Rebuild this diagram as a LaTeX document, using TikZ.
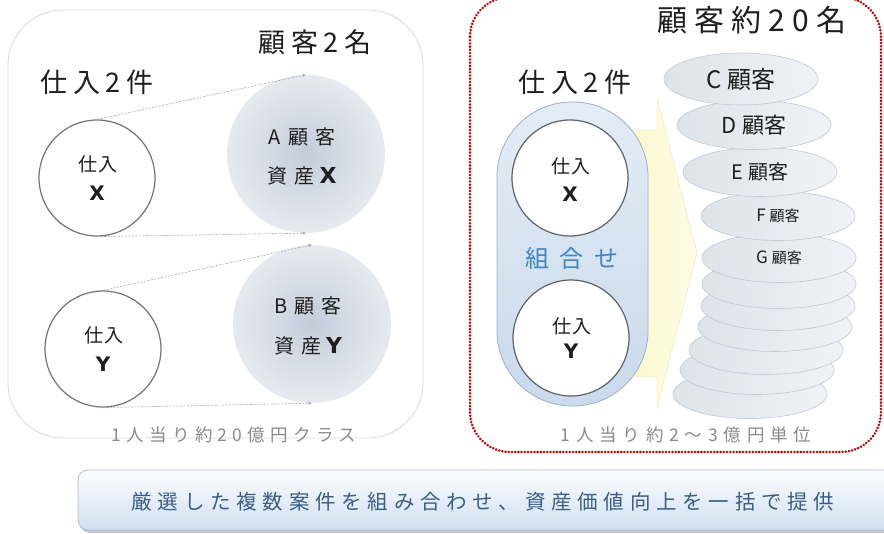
\documentclass[tikz,border=0pt]{standalone}
\usepackage{fontspec}
\setmainfont{Noto Sans CJK JP}
\newfontfamily\latf{DejaVu Sans}
\usetikzlibrary{shapes.geometric,arrows.meta}
\definecolor{boxgray}{HTML}{D9D9D9}
\definecolor{reddot}{HTML}{C00000}
\definecolor{circline}{HTML}{6E757D}
\definecolor{ballIn}{HTML}{C4CEDA}
\definecolor{ballOut}{HTML}{E6EAF0}
\definecolor{capsTop}{HTML}{E4ECF5}
\definecolor{capsBot}{HTML}{C9DAEC}
\definecolor{capsLine}{HTML}{9DB1C7}
\definecolor{ellL}{HTML}{DEE3EA}
\definecolor{ellR}{HTML}{F0F2F6}
\definecolor{ellLine}{HTML}{C3CAD4}
\definecolor{yelL}{HTML}{FBF8CC}
\definecolor{yelR}{HTML}{FDFCE6}
\definecolor{yelLine}{HTML}{EDE9C6}
\definecolor{kumi}{HTML}{3E86C6}
\definecolor{graytxt}{HTML}{8A8A8A}
\definecolor{banTop}{HTML}{FCFDFE}
\definecolor{banBot}{HTML}{CFDFF0}
\definecolor{banLine}{HTML}{AABCCF}
\definecolor{banTxt}{HTML}{3A5D88}
\definecolor{txtdark}{HTML}{1E1E1E}
\newcommand\myfs[2]{\fontsize{#1}{#1}\selectfont\addfontfeatures{LetterSpace=#2}}
\newcommand\bx[2]{{\latf\bfseries\fontsize{#1}{#1}\selectfont #2}}
\begin{document}
\begin{tikzpicture}[x=1pt,y=-1pt,
  leftbox/.style={draw=boxgray,line width=0.8pt,rounded corners=55pt,fill=white},
  redbox/.style={draw=reddot,line width=2.8pt,line cap=round,dash pattern=on 0.01pt off 3.2pt,rounded corners=40pt},
  circ/.style={circle,draw=circline,line width=1.2pt,fill=white,minimum size=116pt,inner sep=0pt},
  ball/.style={circle,minimum size=158pt,inner sep=0pt},
  dasharrow/.style={draw=gray!70,line width=0.6pt,dash pattern=on 2pt off 1.5pt,-{Stealth[length=4pt,width=3pt]}},
  capsule/.style={rounded corners=75pt,top color=capsTop,bottom color=capsBot,draw=capsLine,line width=0.8pt},
  ell/.style={ellipse,left color=ellL,right color=ellR,draw=ellLine,line width=0.6pt,minimum width=154pt,minimum height=49pt,inner sep=0pt,text=txtdark},
  txt/.style={inner sep=0pt,text=txtdark},
]
\useasboundingbox (0,0) rectangle (884,534);
\clip (0,0) rectangle (884,534);
\fill[white] (0,0) rectangle (884,534);

% ---------- left panel ----------
\draw[leftbox] (8,10) rectangle (423,438);
\node[txt] (t1) at (315,42) {\myfs{27}{20}顧客2名};
\node[txt] (t2) at (97,82) {\myfs{27}{20}仕入2件};

\node[ball] (A) at (306,154) {};
\node[ball] (B) at (312,324) {};
\foreach \k in {0,...,25}{
  \pgfmathsetmacro\rr{79-3.0*\k}
  \pgfmathtruncatemacro\pp{4*\k}
  \fill[ballIn!\pp!ballOut] (A) circle[radius=\rr pt];
  \fill[ballIn!\pp!ballOut] (B) circle[radius=\rr pt];
}
\node[circ] (X1) at (97,178) {};
\node[circ] (Y1) at (103,349) {};

\draw[dasharrow] (X1.north) -- (A.north);
\draw[dasharrow] (X1.south) -- (A.south);
\draw[dasharrow] (Y1.north) -- (B.north);
\draw[dasharrow] (Y1.south) -- (B.south);

\node[txt] (x1a) at (98,164) {\myfs{19}{3}仕入};
\node[txt] (x1b) at (97,193) {\bx{20}{X}};
\node[txt] (y1a) at (104,335) {\myfs{19}{3}仕入};
\node[txt] (y1b) at (103,364) {\bx{20}{Y}};

\node[txt] (a1) at (302,137) {\myfs{20}{0}A\hspace{7pt}顧\hspace{7pt}客};
\node[txt] (a2) at (302,176) {\myfs{20}{0}資\hspace{7pt}産\hspace{5pt}\bx{22}{X}};
\node[txt] (b1) at (308,306) {\myfs{20}{0}B\hspace{7pt}顧\hspace{7pt}客};
\node[txt] (b2) at (308,346) {\myfs{20}{0}資\hspace{7pt}産\hspace{5pt}\bx{22}{Y}};

\node[txt,text=graytxt] (n1) at (234,435) {\myfs{17.5}{30}1人当り約20億円クラス};

% ---------- right panel ----------
\draw[redbox] (470,-3) rectangle (881,452);
\node[txt] (t3) at (752,20) {\myfs{30}{24}顧客約20名};
\node[txt] (t4) at (575,82) {\myfs{27}{20}仕入2件};

% yellow arrow
\draw[left color=yelL,right color=yelR,draw=yelLine,line width=0.5pt]
  (628,130) -- (657,130) -- (657,98) -- (697,253) -- (657,408) -- (657,377) -- (628,377) -- cycle;

\draw[capsule] (497,102) rectangle (648,406);
\node[circ,draw=circline!85!black] (X2) at (570,178) {};
\node[circ,draw=circline!85!black] (Y2) at (571,338) {};
\node[txt] (x2a) at (571,166) {\myfs{19}{3}仕入};
\node[txt] (x2b) at (570,194) {\bx{20}{X}};
\node[txt] (y2a) at (572,326) {\myfs{19}{3}仕入};
\node[txt] (y2b) at (571,351) {\bx{20}{Y}};
\node[txt,text=kumi] (kumi) at (572,258) {\myfs{24}{45}組合せ};

% stacked ellipses (bottom first)
\node[ell] (u6) at (750,394) {};
\node[ell] (u5) at (757,370) {};
\node[ell] (u4) at (766,350) {};
\node[ell] (u3) at (775,327) {};
\node[ell] (u2) at (778,306) {};
\node[ell] (u1) at (779,284) {};
\node[ell] (G) at (779,258) {\fontsize{17}{17}\selectfont G\hspace{4pt}{\fontsize{15}{15}\selectfont 顧客}};
\node[ell] (F) at (778,216) {\fontsize{17}{17}\selectfont F\hspace{4pt}{\fontsize{15}{15}\selectfont 顧客}};
\node[ell] (E) at (760,172) {\fontsize{20}{20}\selectfont E 顧客};
\node[ell] (D) at (754,125) {\fontsize{22}{22}\selectfont D 顧客};
\node[ell,minimum height=52pt] (C) at (741,79) {\fontsize{24}{24}\selectfont C 顧客};

\node[txt,text=graytxt] (n2) at (686,435) {\myfs{17.5}{33}1人当り約2～3億円単位};

% ---------- banner ----------
\fill[gray!45,rounded corners=10pt] (80,473) rectangle (904,533);
\draw[top color=banTop,bottom color=banBot,draw=banLine,line width=0.7pt,rounded corners=10pt] (78,470) rectangle (902,530);
\node[txt,text=banTxt] (ban) at (483,502) {\myfs{20.5}{28}厳選した複数案件を組み合わせ、資産価値向上を一括で提供};
\end{tikzpicture}
\end{document}
